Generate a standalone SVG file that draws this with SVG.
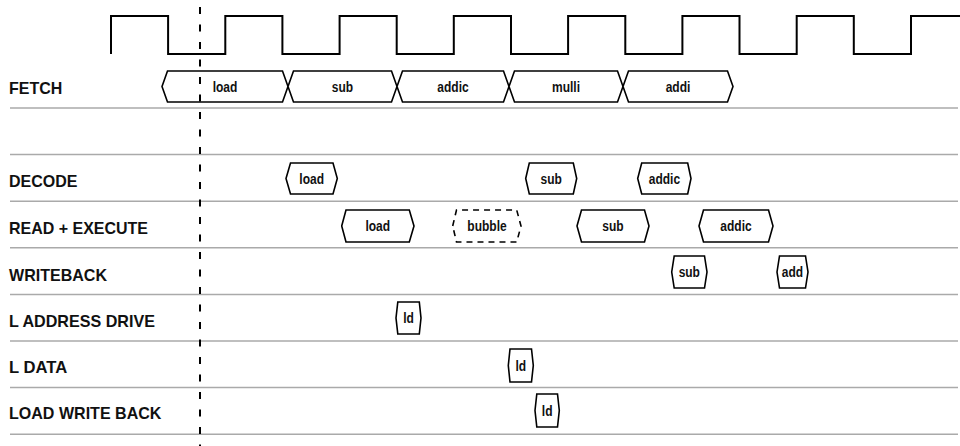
<svg xmlns="http://www.w3.org/2000/svg" width="960" height="446" viewBox="0 0 960 446">
<style>
  .lbl { font-family: "Liberation Sans", Arial, sans-serif; font-weight: bold; font-size: 17px; fill: #111; }
  .bt { font-family: "Liberation Sans", Arial, sans-serif; font-weight: bold; font-size: 14px; fill: #111; text-anchor: middle; }
  .box { fill: #fff; stroke: #000; stroke-width: 1.6; stroke-linejoin: miter; }
  .dbox { fill: #fff; stroke: #000; stroke-width: 1.6; stroke-dasharray: 6 5; }
  .sep { stroke: #aaaaaa; stroke-width: 1.5; fill: none; }
  .clk { stroke: #000; stroke-width: 2; fill: none; }
  .mark { stroke: #000; stroke-width: 2; stroke-dasharray: 7 10.5; fill: none; }
</style>
<rect width="960" height="446" fill="#fff"/>

<g id="separators">
  <line class="sep" x1="10" y1="108" x2="958" y2="108"/>
  <line class="sep" x1="10" y1="154.6" x2="958" y2="154.6"/>
  <line class="sep" x1="10" y1="201.2" x2="958" y2="201.2"/>
  <line class="sep" x1="10" y1="247.8" x2="958" y2="247.8"/>
  <line class="sep" x1="10" y1="294.4" x2="958" y2="294.4"/>
  <line class="sep" x1="10" y1="341" x2="958" y2="341"/>
  <line class="sep" x1="10" y1="387.6" x2="958" y2="387.6"/>
  <line class="sep" x1="10" y1="434.2" x2="958" y2="434.2"/>
</g>

<g id="labels">
  <text class="lbl" x="9" y="94.3" textLength="53.3" lengthAdjust="spacingAndGlyphs">FETCH</text>
  <text class="lbl" x="9" y="187.3" textLength="68.4" lengthAdjust="spacingAndGlyphs">DECODE</text>
  <text class="lbl" x="9" y="234" textLength="139" lengthAdjust="spacingAndGlyphs">READ + EXECUTE</text>
  <text class="lbl" x="9" y="280.7" textLength="98" lengthAdjust="spacingAndGlyphs">WRITEBACK</text>
  <text class="lbl" x="9" y="326.7" textLength="146" lengthAdjust="spacingAndGlyphs">L ADDRESS DRIVE</text>
  <text class="lbl" x="9" y="372.7" textLength="58.2" lengthAdjust="spacingAndGlyphs">L DATA</text>
  <text class="lbl" x="9" y="419" textLength="152.4" lengthAdjust="spacingAndGlyphs">LOAD WRITE BACK</text>
</g>

<g id="clock">
  <path class="clk" d="M111,54 V16 H168.1 V54 H225.3 V16 H282.4 V54 H339.6 V16 H396.7 V54 H453.8 V16 H511 V54 H568.1 V16 H625.3 V54 H682.4 V16 H739.5 V54 H796.7 V16 H853.8 V54 H911 V16 H960"/>
</g>

<g id="fetch-load">
  <polygon class="box" points="162,86.5 167.5,71 282.5,71 288,86.5 282.5,102 167.5,102"/>
  <text class="bt" x="225" y="92" textLength="24.7" lengthAdjust="spacingAndGlyphs">load</text>
</g>
<g id="fetch-sub">
  <polygon class="box" points="288,86.5 293.5,71 391.5,71 397,86.5 391.5,102 293.5,102"/>
  <text class="bt" x="342.5" y="92" textLength="21.3" lengthAdjust="spacingAndGlyphs">sub</text>
</g>
<g id="fetch-addic">
  <polygon class="box" points="397,86.5 402.5,71 503.5,71 509,86.5 503.5,102 402.5,102"/>
  <text class="bt" x="453" y="92" textLength="31.3" lengthAdjust="spacingAndGlyphs">addic</text>
</g>
<g id="fetch-mulli">
  <polygon class="box" points="509,86.5 514.5,71 617.5,71 623,86.5 617.5,102 514.5,102"/>
  <text class="bt" x="566" y="92" textLength="28" lengthAdjust="spacingAndGlyphs">mulli</text>
</g>
<g id="fetch-addi">
  <polygon class="box" points="623,86.5 628.5,71 727.5,71 733,86.5 727.5,102 628.5,102"/>
  <text class="bt" x="678" y="92" textLength="24.7" lengthAdjust="spacingAndGlyphs">addi</text>
</g>

<g id="decode-load">
  <polygon class="box" points="286,178.5 290.5,163 333,163 337.3,178.5 333,194 290.5,194"/>
  <text class="bt" x="311.7" y="183.5" textLength="24.7" lengthAdjust="spacingAndGlyphs">load</text>
</g>
<g id="decode-sub">
  <polygon class="box" points="525.7,178.5 529.3,163 573.3,163 576.7,178.5 573.3,194 529.3,194"/>
  <text class="bt" x="551.2" y="183.5" textLength="21.3" lengthAdjust="spacingAndGlyphs">sub</text>
</g>
<g id="decode-addic">
  <polygon class="box" points="637.7,178.5 641.7,163 687.7,163 691,178.5 687.7,194 641.7,194"/>
  <text class="bt" x="664.4" y="183.5" textLength="31.3" lengthAdjust="spacingAndGlyphs">addic</text>
</g>

<g id="exec-load">
  <polygon class="box" points="341.7,226 346,210 409.3,210 414,226 409.3,242 346,242"/>
  <text class="bt" x="377.8" y="231" textLength="24.7" lengthAdjust="spacingAndGlyphs">load</text>
</g>
<g id="exec-bubble">
  <polygon class="dbox" points="452.7,226 456.5,210 516.7,210 521,226 516.7,242 456.5,242"/>
  <text class="bt" x="487" y="231" textLength="39.3" lengthAdjust="spacingAndGlyphs">bubble</text>
</g>
<g id="exec-sub">
  <polygon class="box" points="577,226 581.5,210 644.5,210 649,226 644.5,242 581.5,242"/>
  <text class="bt" x="613" y="231" textLength="21.3" lengthAdjust="spacingAndGlyphs">sub</text>
</g>
<g id="exec-addic">
  <polygon class="box" points="699,226 703.5,210 768.5,210 773,226 768.5,242 703.5,242"/>
  <text class="bt" x="736" y="231" textLength="31.3" lengthAdjust="spacingAndGlyphs">addic</text>
</g>

<g id="wb-sub">
  <polygon class="box" points="671.7,272 674.2,256 704.5,256 707,272 704.5,288 674.2,288"/>
  <text class="bt" x="689.3" y="277" textLength="21.3" lengthAdjust="spacingAndGlyphs">sub</text>
</g>
<g id="wb-add">
  <polygon class="box" points="777,272 779.5,256 805.5,256 808,272 805.5,288 779.5,288"/>
  <text class="bt" x="792.5" y="277" textLength="21.3" lengthAdjust="spacingAndGlyphs">add</text>
</g>

<g id="addr-ld">
  <polygon class="box" points="396,318 397.8,302 419.3,302 421,318 419.3,334 397.8,334"/>
  <text class="bt" x="408.5" y="323" textLength="10.7" lengthAdjust="spacingAndGlyphs">ld</text>
</g>
<g id="data-ld">
  <polygon class="box" points="508.3,365.5 510,349 531.5,349 533.3,365.5 531.5,382 510,382"/>
  <text class="bt" x="520.8" y="370.5" textLength="10.7" lengthAdjust="spacingAndGlyphs">ld</text>
</g>
<g id="lwb-ld">
  <polygon class="box" points="535,410.5 536.8,394 557.5,394 559.3,410.5 557.5,427 536.8,427"/>
  <text class="bt" x="547.2" y="415.5" textLength="10.7" lengthAdjust="spacingAndGlyphs">ld</text>
</g>

<g id="connectors">
  <line class="mark" x1="200" y1="7" x2="200" y2="446"/>
</g>
</svg>
